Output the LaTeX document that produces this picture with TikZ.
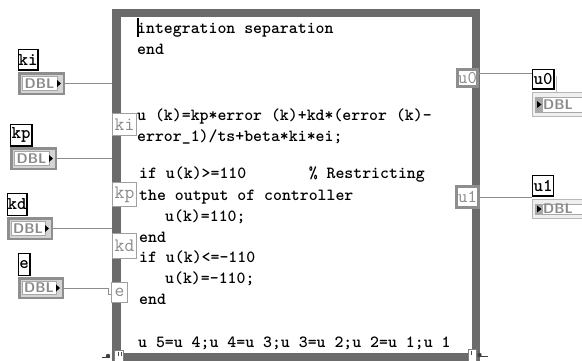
\documentclass[tikz,border=0pt]{standalone}
\usetikzlibrary{calc}
\definecolor{framegray}{HTML}{6B6B6B}
\definecolor{wiregray}{HTML}{8C8C8C}
\definecolor{termtext}{HTML}{8A8A8A}
\definecolor{termedge}{HTML}{A0A0A0}
\definecolor{ctlgray}{HTML}{8E8E8E}
\definecolor{ctlfill}{HTML}{D4D4D4}
\definecolor{ctledge}{HTML}{A8A8A8}
\definecolor{dbltext}{HTML}{8A8A8A}
\definecolor{indedge}{HTML}{B8B8B8}
\definecolor{indfill}{HTML}{EFEFEF}
\definecolor{indstrip}{HTML}{A8A8A8}
\newcommand\DblCtl[5]{%
  \node[ctlouter, minimum width={#4-#2-2.5}, minimum height={#5-#3-2.5}] (#1) at ({(#2+#4)/2},{(#3+#5)/2}) {};
  \node[ctlwhite, minimum width={#4-#2-12}, minimum height={#5-#3-9}] (#1w) at ({(#2+#4)/2-2},{(#3+#5)/2}) {DBL};
  \fill[black] (#4-8,{(#3+#5)/2-3.5}) -- (#4-4,{(#3+#5)/2}) -- (#4-8,{(#3+#5)/2+3.5}) -- cycle;
}
\newcommand\DblInd[5]{%
  \node[indouter, minimum width={#4-#2-1}, minimum height={#5-#3-1}] (#1) at ({(#2+#4)/2},{(#3+#5)/2}) {};
  \path[draw=ctledge, line width=0.8pt, fill=white] (#2+3,#3+5) rectangle (#4-1,#5-5);
  \fill[indstrip] (#2+3,#3+5) rectangle (#2+11,#5-5);
  \fill[black] (#2+5,{(#3+#5)/2-3.5}) -- (#2+9.5,{(#3+#5)/2}) -- (#2+5,{(#3+#5)/2+3.5}) -- cycle;
  \node[dbltxt, anchor=west] (#1t) at (#2+11,{(#3+#5)/2}) {DBL};
}
\begin{document}
\begin{tikzpicture}[x=1pt,y=-1pt,
  fnframe/.style={draw=framegray, line width=8.5pt, inner sep=0pt},
  wire/.style={draw=wiregray, line width=1pt},
  codeline/.style={anchor=base west, inner sep=0pt, font=\ttfamily\bfseries\fontsize{17}{20}\selectfont},
  termin/.style={draw=termedge, line width=1pt, fill=white, inner sep=0pt, text=termtext, font=\ttfamily\fontsize{19}{19}\selectfont},
  termout/.style={draw=ctlgray, line width=3pt, fill=white, inner sep=0pt, text=termtext, font=\ttfamily\fontsize{18}{18}\selectfont},
  lbl/.style={draw=black, line width=1.1pt, fill=white, inner sep=0pt, font=\ttfamily\bfseries\fontsize{18}{18}\selectfont},
  ctlouter/.style={draw=ctlgray, line width=2.5pt, fill=ctlfill, inner sep=0pt},
  ctlwhite/.style={draw=ctledge, line width=0.8pt, fill=white, inner sep=0pt, text=dbltext, font=\sffamily\bfseries\fontsize{14}{14}\selectfont},
  indouter/.style={draw=indedge, line width=1pt, fill=indfill, inner sep=0pt},
  dbltxt/.style={inner sep=0pt, text=dbltext, font=\sffamily\bfseries\fontsize{14}{14}\selectfont},
  handle/.style={draw=gray, line width=0.8pt, fill=white}
]
\useasboundingbox (0,0) rectangle (582,360);
\clip (0,0) rectangle (582,360);
\fill[white] (0,0) rectangle (582,360);

% formula node frame
\node[fnframe, minimum width=359.5pt, minimum height=344pt] (fn) at (296,185.1) {};

% input controls
\DblCtl{cki}{18}{72}{65}{95}
\DblCtl{ckp}{10}{147}{57}{170}
\DblCtl{ckd}{7}{217}{53}{240}
\DblCtl{ce}{18}{277}{64}{299}
\node[lbl, minimum width=19.9pt, minimum height=20.9pt] (lki) at (28,59.5) {ki};
\node[lbl, minimum width=21.9pt, minimum height=21.9pt] (lkp) at (21,135) {kp};
\node[lbl, minimum width=19.9pt, minimum height=21.9pt] (lkd) at (17,204.5) {kd};
\node[lbl, minimum width=11.9pt, minimum height=21.9pt] (le) at (24,264.5) {e};

% terminals
\node[termin, minimum width=24pt, minimum height=22pt] (tki) at (124.5,124.5) {ki};
\node[termin, minimum width=24pt, minimum height=24pt] (tkp) at (124.5,194.5) {kp};
\node[termin, minimum width=24pt, minimum height=25pt] (tkd) at (124.5,246) {kd};
\node[termin, minimum width=16pt, minimum height=20pt] (te) at (119.5,292.5) {e};
\node[termout, minimum width=20pt, minimum height=17pt] (tu0) at (467.5,78) {u0};
\node[termout, minimum width=22pt, minimum height=21pt] (tu1) at (467.5,197) {u1};

% wires in
\draw[wire] (cki.east) -- (cki.east -| fn.west);
\draw[wire] (ckp.east) -- (ckp.east -| fn.west);
\draw[wire] (ckd.east) -- (ckd.east -| fn.west);
\coordinate (ebend) at (108,0);
\draw[wire] (ce.east) -- (ce.east -| ebend) |- ([yshift=-2pt]te.west);

% output indicators
\DblInd{iu0}{532}{92}{595}{117}
\DblInd{iu1}{532}{199}{595}{219}
\draw[draw=indedge, line width=0.8pt] (556.5,76) -- (556.5,92);
\node[lbl, minimum width=21.9pt, minimum height=19.9pt] (iu0l) at (543,79) {u0};
\node[lbl, minimum width=20.9pt, minimum height=20.9pt] (iu1l) at (543,185.5) {u1};
\draw[wire] ([yshift=4.5pt]tu0.east) -- ([yshift=4.5pt]tu0.east -| iu0l.west);
\draw[wire] (tu1.east) -- (tu1.east -| iu1l.west);

% code text
\node[codeline] (l1) at (137,33) {integration separation};
\node[codeline] (l2) at (137,54) {end};
\node[codeline] (l3) at (137,120) {u (k)=kp*error (k)+kd*(error (k)-};
\node[codeline] (l4) at (137,141) {error\_1)/ts+beta*ki*ei;};
\node[codeline] (l5) at (139,178) {if u(k)>=110~~~~~~~\%~Restricting};
\node[codeline] (l6) at (139,200) {the output of controller};
\node[codeline] (l7) at (165,221) {u(k)=110;};
\node[codeline] (l8) at (139,242) {end};
\node[codeline] (l9) at (139,262) {if u(k)<=-110};
\node[codeline] (l10) at (165,283) {u(k)=-110;};
\node[codeline] (l11) at (139,304) {end};
\node[codeline] (l12) at (138,347) {u 5=u 4;u 4=u 3;u 3=u 2;u 2=u 1;u 1};

% text cursor
\fill[black] (136.5,18) rectangle (139,37);

% resize handles
\path[handle] (114,350) rectangle (123,361);
\draw[black!70, line width=1pt] (118,352) -- (118,356) (121,352) -- (121,356);
\fill[black!75] (108,356) circle (2.2pt);
\draw[black!75, line width=1pt] (102,357) -- (110,357);
\path[handle] (468,349) rectangle (476,361);
\draw[black!70, line width=1pt] (471,351) -- (471,355);
\fill[black!75] (479.5,355) circle (2.2pt);
\draw[black!75, line width=1pt] (479,356.5) -- (488,356.5);
\end{tikzpicture}
\end{document}
